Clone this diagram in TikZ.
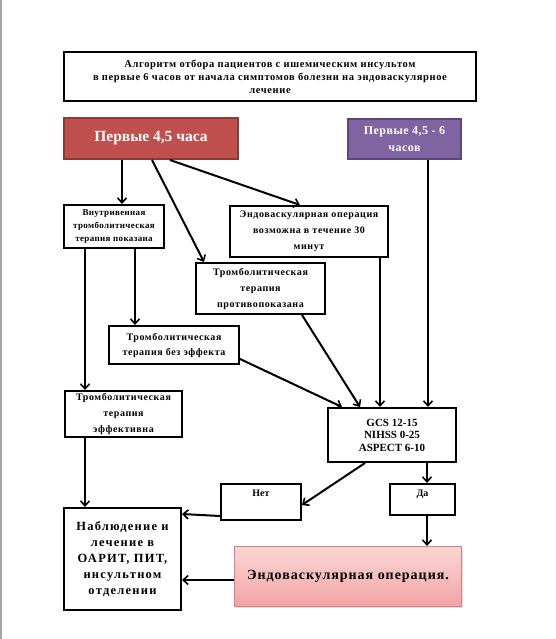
\documentclass[tikz,border=0pt]{standalone}
\usepackage{fontspec}
\setmainfont{Liberation Serif}
\usetikzlibrary{arrows.meta}
\definecolor{redfill}{HTML}{C0504D}
\definecolor{redline}{HTML}{8C3A37}
\definecolor{purfill}{HTML}{8064A2}
\definecolor{purline}{HTML}{5C4776}
\definecolor{pinktop}{HTML}{FBD6D6}
\definecolor{pinkbot}{HTML}{F2A3A3}
\definecolor{pinkline}{HTML}{D98080}
\newcommand{\ls}[1]{\addfontfeature{LetterSpace=#1}}
\begin{document}
\begin{tikzpicture}[x=1pt,y=-1pt,
  box/.style={draw=black, line width=2pt, fill=white, inner sep=0pt, anchor=north west, align=center},
  arr/.style={line width=2pt, -{Straight Barb[length=5pt,width=9pt,line width=1.6pt]}}]
\useasboundingbox (0,0) rectangle (556,639);
\fill[white] (0,0) rectangle (556,639);
\draw[gray!70, line width=1.5pt] (0.8,0) -- (0.8,639);
\node[box, minimum width=412pt, minimum height=49pt, font=\bfseries\fontsize{10.5}{13}\selectfont\ls{6}] (title) at (63,51)
  {Алгоритм отбора пациентов с ишемическим инсультом\\в первые 6 часов от начала симптомов болезни на эндоваскулярное\\лечение};
\node[box, draw=redline, fill=redfill, text=white, minimum width=174pt, minimum height=41pt, font=\bfseries\fontsize{15.5}{18}\selectfont] (red) at (63,117) {Первые 4,5 часа};
\node[box, draw=purline, fill=purfill, text=white, minimum width=113pt, minimum height=40pt, font=\bfseries\fontsize{12}{17}\selectfont\ls{4}] (pur) at (347,118) {Первые 4,5 - 6\\часов};
\node[box, minimum width=100pt, minimum height=43pt, font=\bfseries\fontsize{9}{13}\selectfont\ls{4}] (iv) at (63,204) {Внутривенная\\тромболитическая\\терапия показана};
\node[box, minimum width=158pt, minimum height=51pt, font=\bfseries\fontsize{10}{16}\selectfont\ls{6}] (endo) at (229,205) {Эндоваскулярная операция\\возможна в течение 30\\минут};
\node[box, minimum width=129pt, minimum height=51pt, font=\bfseries\fontsize{10}{16}\selectfont\ls{6}] (contra) at (195,262) {Тромболитическая\\терапия\\противопоказана};
\node[box, minimum width=130pt, minimum height=38pt, font=\bfseries\fontsize{10}{15}\selectfont\ls{6}] (noeff) at (108,325) {Тромболитическая\\терапия  без эффекта};
\node[box, minimum width=117pt, minimum height=46pt, font=\bfseries\fontsize{10}{16}\selectfont\ls{6}] (eff) at (64,390) {Тромболитическая\\терапия\\эффективна};
\node[box, minimum width=128pt, minimum height=54pt, font=\bfseries\fontsize{11}{12.5}\selectfont] (gcs) at (327,407) {GCS 12-15\\NIHSS 0-25\\ASPECT  6-10};
\node[box, minimum width=80pt, minimum height=36pt, text height=8pt, text depth=20pt, font=\bfseries\fontsize{10}{12}\selectfont] (net) at (220,483) {Нет};
\node[box, minimum width=65pt, minimum height=31pt, text height=8pt, text depth=14pt, font=\bfseries\fontsize{10}{12}\selectfont] (da) at (389,483) {Да};
\node[box, minimum width=117pt, minimum height=102pt, font=\bfseries\fontsize{12.5}{16}\selectfont\ls{10}] (obs) at (63,507) {Наблюдение и\\лечение в\\ОАРИТ, ПИТ,\\инсультном\\отделении};
\fill[black!12] (236,548) rectangle (463,608);
\node[box, draw=pinkline, line width=1pt, top color=pinktop, bottom color=pinkbot, minimum width=227pt, minimum height=60pt, font=\bfseries\fontsize{14}{16}\selectfont\ls{7}] (op) at (234,546) {Эндоваскулярная операция.};
% connectors
\draw[arr] ([xshift=59pt]red.south west) -- ([xshift=59pt]iv.north west);
\draw[arr] ([xshift=89pt]red.south west) -- ([xshift=9pt]contra.north west);
\draw[arr] ([xshift=107pt]red.south west) -- ([xshift=71pt]endo.north west);
\draw[arr] ([xshift=72pt]iv.south west) -- ([xshift=27pt]noeff.north west);
\draw[arr] ([xshift=22pt]iv.south west) -- ([xshift=21pt]eff.north west);
\draw[arr] ([xshift=151pt]endo.south west) -- ([xshift=53pt]gcs.north west);
\draw[arr] ([xshift=81pt]pur.south west) -- ([xshift=101pt]gcs.north west);
\draw[arr] ([xshift=107pt]contra.south west) -- ([xshift=33pt]gcs.north west);
\draw[arr] ([yshift=6pt]noeff.south east) -- ([xshift=15pt]gcs.north west);
\draw[arr] ([xshift=38pt]gcs.south west) -- ([yshift=16pt]net.south east);
\draw[arr] ([xshift=100pt]gcs.south west) -- ([xshift=38pt]da.north west);
\draw[arr] ([xshift=21pt]eff.south west) -- ([xshift=22pt]obs.north west);
\draw[arr] ([yshift=5pt]net.south west) -- ([yshift=-7pt]obs.north east);
\draw[arr] ([xshift=38pt]da.south west) -- ([xshift=193pt]op.north west);
\draw[arr] ([yshift=-34pt]op.north west) -- ([yshift=-73pt]obs.north east);
\end{tikzpicture}
\end{document}
